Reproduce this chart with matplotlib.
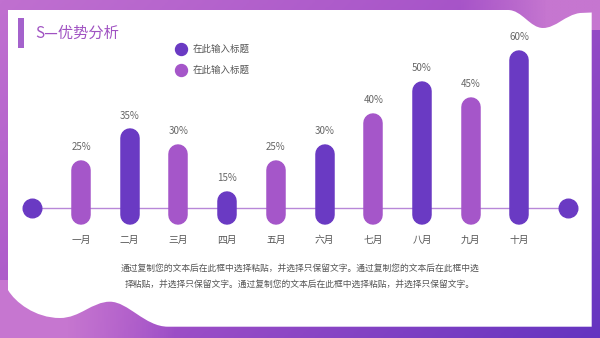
import numpy as np
import matplotlib.pyplot as plt
from matplotlib.path import Path
from matplotlib.patches import PathPatch, Rectangle
from matplotlib.lines import Line2D
from matplotlib.colors import LinearSegmentedColormap, to_rgb

plt.rcParams['font.family'] = ['Noto Sans CJK SC', 'DejaVu Sans']

# Data
months = ['一月', '二月', '三月', '四月', '五月', '六月', '七月', '八月', '九月', '十月']
values = [25, 35, 30, 15, 25, 30, 40, 50, 45, 60]
series_names = ['在此输入标题', '在此输入标题']
title = 'S—优势分析'
note_lines = ['通过复制您的文本后在此框中选择粘贴，并选择只保留文字。通过复制您的文本后在此框中选',
              '择粘贴，并选择只保留文字。通过复制您的文本后在此框中选择粘贴，并选择只保留文字。']

dark = '#6a3ac3'
light = '#a556c9'
pink = '#c676d0'

W, H = 600, 338
fig = plt.figure(figsize=(6, 3.38), dpi=100)

# background frame (pixel coords, y down)
bg = fig.add_axes([0, 0, 1, 1])
bg.set_xlim(0, W)
bg.set_ylim(H, 0)
bg.axis('off')
cmap = LinearSegmentedColormap.from_list('frame', ['#c070d0', '#a552c8', '#6434c0'])
gx, gy = np.meshgrid(np.linspace(0, 1, 200), np.linspace(0, 1, 120))
bg.imshow((gx * 0.6 + gy * 0.4), cmap=cmap, extent=(0, W, H, 0), aspect='auto', zorder=0)


def pink_fade(extent, from_left):
    # pink overlay that fades out across its width
    img = np.zeros((10, 100, 4))
    img[..., :3] = to_rgb(pink)
    ramp = np.clip(np.linspace(1.6, -0.2, 100), 0, 1)
    img[..., 3] = ramp if from_left else ramp[::-1]
    bg.imshow(img, extent=extent, aspect='auto', zorder=1)


pink_fade((0, 200, H, 280), True)
pink_fade((440, 600, 30, 0), False)

# white card with wavy corners
verts = [(8, 10), (508, 10),
         (522, 10), (530, 28), (543, 28),
         (556, 28), (565, 15), (580, 13),
         (591.7, 12.5), (591.7, 326.7), (168, 326.7),
         (145, 326.7), (128, 301.7), (110, 301.7),
         (92, 301.7), (80, 318), (60, 318),
         (35, 318), (15, 302), (8, 290),
         (8, 10)]
codes = [Path.MOVETO, Path.LINETO,
         Path.CURVE4, Path.CURVE4, Path.CURVE4,
         Path.CURVE4, Path.CURVE4, Path.CURVE4,
         Path.LINETO, Path.LINETO, Path.LINETO,
         Path.CURVE4, Path.CURVE4, Path.CURVE4,
         Path.CURVE4, Path.CURVE4, Path.CURVE4,
         Path.CURVE4, Path.CURVE4, Path.CURVE4,
         Path.CLOSEPOLY]
bg.add_patch(PathPatch(Path(verts, codes), facecolor='white', lw=0, zorder=2))

# title with accent bar
bg.add_patch(Rectangle((18, 18.3), 6, 29.4, color='#a462cc', lw=0, zorder=3))
fig.text(35.5 / W, 1 - 33.3 / H, title, fontsize=11, color='#a052c2', va='center', ha='left')

# chart axes
ylim = (2.1, 66.4)
ax = fig.add_axes([32.3 / W, (H - 232) / H, (568.2 - 32.3) / W, 202 / H])
ax.set_xlim(-1, 10)
ax.set_ylim(*ylim)
ax.patch.set_alpha(0)
for s in ax.spines.values():
    s.set_visible(False)
ax.set_yticks([])

ppu = 202 / (ylim[1] - ylim[0])   # pixels per percent
bar_px = 19.5
r = bar_px / 2 / ppu
bottom = 4.3
baseline = 9.8

x = np.arange(len(months))
ax.plot([-1, 10], [baseline, baseline], color='#b888d8', lw=1.0, zorder=1, clip_on=False)
ax.plot([-1, 10], [baseline, baseline], ls='', marker='o', ms=13.4, color=dark,
        zorder=3, clip_on=False)

for i, v in enumerate(values):
    c = light if i % 2 == 0 else dark
    ax.plot([i, i], [bottom + r, v - r], color=c, lw=bar_px * 0.72,
            solid_capstyle='round', zorder=2)
    ax.annotate(f'{v}%', (i, v), xytext=(0, 9.4), textcoords='offset points',
                ha='center', va='center', fontsize=7, color='#666666')

ax.set_xticks(x, months)
ax.tick_params(axis='x', length=0, pad=2, labelsize=7, labelcolor='#555555')

# legend
handles = [Line2D([], [], ls='', marker='o', ms=8.6, color=dark),
           Line2D([], [], ls='', marker='o', ms=8.6, color=light)]
fig.legend(handles, series_names, loc='upper left',
           bbox_to_anchor=(176.6 / W, 1 - 44.5 / H), frameon=False,
           fontsize=6.8, labelcolor='#555555', handlelength=1.0,
           handletextpad=0.67, labelspacing=1.25, borderpad=0, borderaxespad=0)

# note text
fig.text(0.5, 1 - 268.3 / H, note_lines[0], ha='center', va='center', fontsize=6.3, color='#555555')
fig.text(0.5, 1 - 284.3 / H, note_lines[1], ha='center', va='center', fontsize=6.3, color='#555555')

fig.savefig('out.png', dpi=100)
